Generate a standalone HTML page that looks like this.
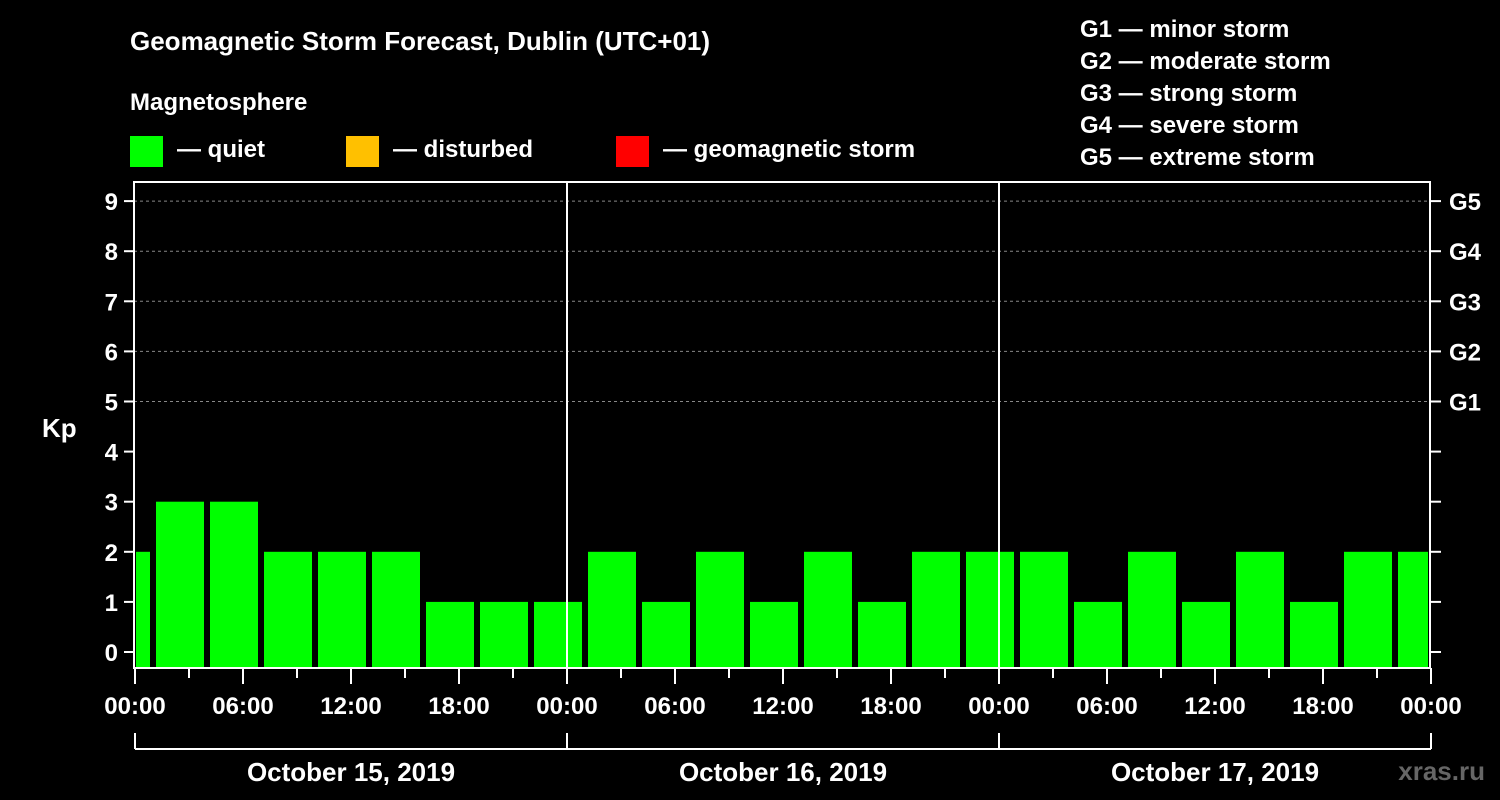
<!DOCTYPE html>
<html><head><meta charset="utf-8"><style>
html,body{margin:0;padding:0;background:#000;}
svg{display:block;font-family:"Liberation Sans",Arial,sans-serif;font-weight:bold;}
</style></head><body>
<svg id="chart" width="1500" height="800" viewBox="0 0 1500 800">
<rect width="1500" height="800" fill="#000"/>
<text x="130" y="50" fill="#fff" font-size="26">Geomagnetic Storm Forecast, Dublin (UTC+01)</text>
<text x="130" y="110" fill="#fff" font-size="24">Magnetosphere</text>
<g><rect x="130" y="136" width="33" height="31" fill="#00ff00"/><text x="177" y="157" fill="#fff" font-size="24">— quiet</text></g>
<g><rect x="346" y="136" width="33" height="31" fill="#ffc000"/><text x="393" y="157" fill="#fff" font-size="24">— disturbed</text></g>
<g><rect x="616" y="136" width="33" height="31" fill="#ff0000"/><text x="663" y="157" fill="#fff" font-size="24">— geomagnetic storm</text></g>
<g fill="#fff" font-size="24">
<text x="1080" y="37">G1 — minor storm</text>
<text x="1080" y="69">G2 — moderate storm</text>
<text x="1080" y="101">G3 — strong storm</text>
<text x="1080" y="133">G4 — severe storm</text>
<text x="1080" y="165">G5 — extreme storm</text>
</g>
<text x="42" y="437" fill="#fff" font-size="26">Kp</text>
<text x="1485" y="780" fill="#666" font-size="26" text-anchor="end">xras.ru</text>
<g id="grid"></g><g id="bars"></g><g id="axes"></g>
</svg>
<script>
const kpValues=[2,3,3,2,2,2,1,1,1,2,1,2,1,2,1,2,2,2,1,2,1,2,1,2,2];
const barStartHours=[-2,1,4,7,10,13,16,19,22,25,28,31,34,37,40,43,46,49,52,55,58,61,64,67,70];
const yTicks=[0,1,2,3,4,5,6,7,8,9];
const gLabels=["G1","G2","G3","G4","G5"];
const gLevels=[5,6,7,8,9];
const xTickLabels=["00:00","06:00","12:00","18:00","00:00","06:00","12:00","18:00","00:00","06:00","12:00","18:00","00:00"];
const dayLabels=["October 15, 2019","October 16, 2019","October 17, 2019"];
const NS="http://www.w3.org/2000/svg";
const L=134,R=1431,T=182,B=668,X0=135,PXH=18;
const x=h=>X0+h*PXH;
const y=v=>652-v*50.1;
function mk(t,a,p){const e=document.createElementNS(NS,t);for(const k in a)e.setAttribute(k,a[k]);p.appendChild(e);return e;}
const grid=document.getElementById('grid'),bars=document.getElementById('bars'),axes=document.getElementById('axes');
gLevels.forEach((v)=>{const l=mk('line',{x1:L,x2:R,y1:y(v),y2:y(v),stroke:'#888','stroke-dasharray':'3,3','stroke-width':1},grid);

});
kpValues.forEach((v,i)=>{let x1=Math.max(x(barStartHours[i])+3,L+2),x2=Math.min(x(barStartHours[i]+3)-3,R-3);
const r=mk('rect',{x:x1,y:y(v),width:x2-x1,height:B-y(v),fill:'#00ff00'},bars);

});
mk('rect',{x:L,y:T,width:R-L-1,height:B-T,fill:'none',stroke:'#fff','stroke-width':2},axes);
[1,2].forEach(d=>{const l=mk('line',{x1:x(24*d),x2:x(24*d),y1:T,y2:B,stroke:'#fff','stroke-width':2},axes);

});
yTicks.forEach(v=>{mk('line',{x1:L-10,x2:L,y1:y(v),y2:y(v),stroke:'#fff','stroke-width':2},axes);
mk('line',{x1:R,x2:R+10,y1:y(v),y2:y(v),stroke:'#fff','stroke-width':2},axes);
const t=mk('text',{x:L-16,y:y(v)+9,fill:'#fff','font-size':24,'text-anchor':'end'},axes);t.textContent=v;

});
gLabels.forEach((g,i)=>{const t=mk('text',{x:1449,y:y(gLevels[i])+9,fill:'#fff','font-size':24},axes);t.textContent=g;

});
for(let h=0;h<=72;h+=3){const major=h%6===0;mk('line',{x1:x(h),x2:x(h),y1:B,y2:B+(major?16:10),stroke:'#fff','stroke-width':2},axes);}
xTickLabels.forEach((s,i)=>{const t=mk('text',{x:x(i*6),y:714,fill:'#fff','font-size':24,'text-anchor':'middle'},axes);t.textContent=s;

});
mk('line',{x1:x(0),x2:x(72),y1:749,y2:749,stroke:'#fff','stroke-width':2},axes);
for(let d=0;d<=3;d++)mk('line',{x1:x(24*d),x2:x(24*d),y1:733,y2:749,stroke:'#fff','stroke-width':2},axes);
dayLabels.forEach((s,i)=>{const t=mk('text',{x:x(24*i+12),y:781,fill:'#fff','font-size':26,'text-anchor':'middle'},axes);t.textContent=s;

});
</script>
</body></html>
